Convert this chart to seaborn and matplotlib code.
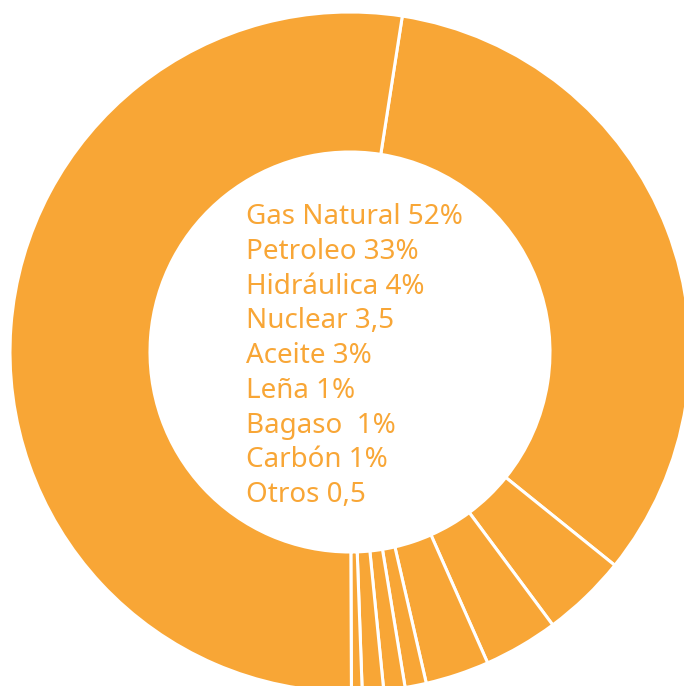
import matplotlib
matplotlib.use("Agg")
import matplotlib.pyplot as plt
import seaborn as sns

# Data (clockwise order from just right of top)
labels = ["Petroleo", "Hidráulica", "Nuclear", "Aceite", "Leña", "Bagaso", "Carbón", "Otros", "Gas Natural"]
values = [33, 4, 3.5, 3, 1, 1, 1, 0.5, 52]
legend_lines = ["Gas Natural 52%", "Petroleo 33%", "Hidráulica 4%", "Nuclear 3,5",
                "Aceite 3%", "Leña 1%", "Bagaso  1%", "Carbón 1%", "Otros 0,5"]

sns.set_style("white")
plt.rcParams['font.family'] = ['Noto Sans', 'DejaVu Sans']

orange = "#F8A636"
W, H = 684, 686
cx, cy, R = 350, 352, 340

fig = plt.figure(figsize=(W / 100, H / 100), dpi=100)
ax = fig.add_axes([0, 0, 1, 1])
colors = sns.color_palette([orange] * len(values))
ax.pie(values, colors=colors, startangle=90 - 8.85, counterclock=False, radius=1,
       wedgeprops=dict(width=1 - 200 / 340, edgecolor="white", linewidth=2.2))
ax.set_xlim(-cx / R, (W - cx) / R)
ax.set_ylim(-(H - cy) / R, cy / R)
ax.set_aspect("equal")
ax.axis("off")

x0 = (246 - cx) / R
for i, t in enumerate(legend_lines):
    yb = 224 + i * 34.75
    ax.text(x0, (cy - yb) / R, t, color=orange, fontsize=20, ha="left", va="baseline")

fig.savefig("out.png", dpi=100)
